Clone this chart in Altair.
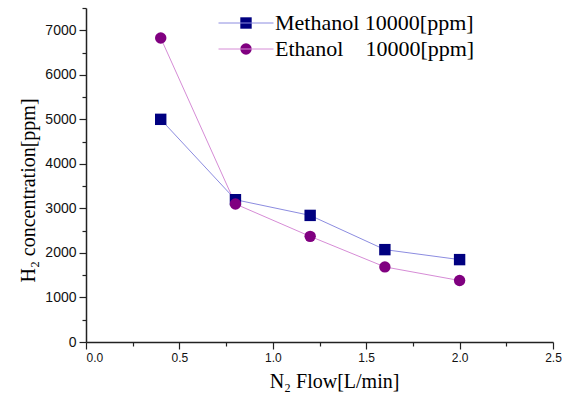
import altair as alt
import pandas as pd

flow = [0.4, 0.8, 1.2, 1.6, 2.0]
methanol = [5000, 3195, 2843, 2074, 1850]
ethanol = [6827, 3099, 2372, 1686, 1380]
series_names = ["Methanol 10000[ppm]", "Ethanol\u00a0\u00a0\u00a0\u00a010000[ppm]"]
line_colors = ["#8c8ce0", "#d68cd6"]
marker_colors = ["#000080", "#800080"]
marker_shapes = ["square", "circle"]
x_major = [0.0, 0.5, 1.0, 1.5, 2.0, 2.5]
x_minor = [0.25, 0.75, 1.25, 1.75, 2.25]
y_major = [0, 1000, 2000, 3000, 4000, 5000, 6000, 7000]
y_minor = [500, 1500, 2500, 3500, 4500, 5500, 6500, 7500]

rows = []
for name, vals in zip(series_names, [methanol, ethanol]):
    for xv, yv in zip(flow, vals):
        rows.append({"flow": xv, "conc": yv, "series": name})
df = pd.DataFrame(rows)

xscale = alt.Scale(domain=[0, 2.5], nice=False, zero=False)
yscale = alt.Scale(domain=[0, 7500], nice=False)

AX = dict(domainColor="#222222", tickColor="#222222", domainWidth=1.5, tickWidth=1.2, grid=False)

x_major_axis = alt.Axis(values=x_major, format=".1f", tickSize=7, labelFont="Liberation Sans",
                        labelFontSize=12, labelColor="#111111", labelPadding=3, labelFlush=False,
                        labelAlign={"condition": {"test": "datum.value == 0", "value": "left"},
                                    "value": "center"},
                        title="N\u2082 Flow[L/min]", titleFont="Liberation Serif", titleFontSize=20,
                        titleFontWeight="normal", titleColor="#000000", titlePadding=8, titleX=248,
                        orient="bottom", **AX)
y_major_axis = alt.Axis(values=y_major, format="d", tickSize=7, labelFont="Liberation Sans",
                        labelFontSize=14, labelColor="#111111", labelPadding=3,
                        title="H\u2082 concentration[ppm]", titleFont="Liberation Serif", titleFontSize=20,
                        titleFontWeight="normal", titleColor="#000000", titlePadding=6, titleY=182,
                        orient="left", **AX)
x_minor_axis = alt.Axis(values=x_minor, tickSize=4, labels=False, domain=False, title=None,
                        orient="bottom", tickColor="#222222", tickWidth=1.2, grid=False)
y_minor_axis = alt.Axis(values=y_minor, tickSize=4, labels=False, domain=False, title=None,
                        orient="left", tickColor="#222222", tickWidth=1.2, grid=False)

lines = alt.Chart(df).mark_line(strokeWidth=1).encode(
    x=alt.X("flow:Q", scale=xscale, axis=x_major_axis),
    y=alt.Y("conc:Q", scale=yscale, axis=y_major_axis),
    color=alt.Color("series:N",
                    scale=alt.Scale(domain=series_names, range=line_colors),
                    legend=alt.Legend(title=None, orient="none", legendX=132, legendY=3,
                                      symbolType="stroke", symbolSize=3025, symbolStrokeWidth=1,
                                      clipHeight=24, rowPadding=2, padding=0,
                                      labelFont="Liberation Serif", labelFontSize=22,
                                      labelColor="#000000", labelOffset=1, labelLimit=400)),
    order="flow:Q",
)

pt_legend = alt.Legend(title=None, orient="none", legendX=149, legendY=3,
                       clipHeight=24, rowPadding=2, padding=0, symbolStrokeWidth=0,
                       symbolSize=130, labelExpr="''", labelFontSize=22)

points = alt.Chart(df).mark_point(filled=True, opacity=1, strokeWidth=0).encode(
    x=alt.X("flow:Q", scale=xscale, axis=x_minor_axis),
    y=alt.Y("conc:Q", scale=yscale, axis=y_minor_axis),
    fill=alt.Fill("series:N", scale=alt.Scale(domain=series_names, range=marker_colors),
                  legend=pt_legend),
    shape=alt.Shape("series:N", scale=alt.Scale(domain=series_names, range=marker_shapes),
                    legend=pt_legend),
    size=alt.value(130),
)

chart = alt.layer(lines, points).resolve_scale(
    x="shared", y="shared", color="independent"
).resolve_axis(x="independent", y="independent").properties(
    width=467, height=334,
    autosize=alt.AutoSizeParams(type="none"),
    padding={"left": 86, "top": 8, "right": 18, "bottom": 54},
    background="#ffffff",
).configure_view(stroke=None)

chart.save("out.html", embed_options={"renderer": "svg", "actions": False})
